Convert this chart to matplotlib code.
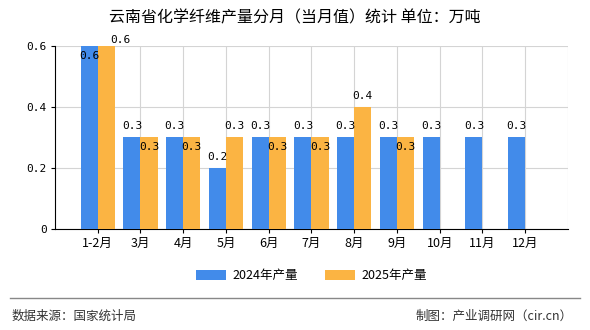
import numpy as np
import matplotlib
matplotlib.use('Agg')
import matplotlib.pyplot as plt

plt.rcParams['font.family'] = ['Noto Sans CJK SC', 'DejaVu Sans']

months = ['1-2月', '3月', '4月', '5月', '6月', '7月', '8月', '9月', '10月', '11月', '12月']
v2024 = [0.6, 0.3, 0.3, 0.2, 0.3, 0.3, 0.3, 0.3, 0.3, 0.3, 0.3]
v2025 = [0.6, 0.3, 0.3, 0.3, 0.3, 0.3, 0.4, 0.3]
yticks = [0, 0.2, 0.4, 0.6]

blue = '#428bea'
orange = '#fbb443'

fig = plt.figure(figsize=(5.9, 3.3), dpi=100)
ax = fig.add_axes([0.0932, 0.3061, 0.8695, 0.5545])

x = np.arange(len(months))
w = 0.4
ax.bar(x[:len(v2024)] - w / 2, v2024, w, color=blue, label='2024年产量', zorder=3)
ax.bar(x[:len(v2025)] + w / 2, v2025, w, color=orange, label='2025年产量', zorder=3)

ax.set_xlim(-1, len(months))
ax.set_ylim(0, 0.6)
ax.set_xticks(x)
ax.set_xticklabels(months, fontsize=9)
ax.set_yticks(yticks)
ax.set_yticklabels(['0', '0.2', '0.4', '0.6'], fontsize=8, family='DejaVu Sans Mono')
ax.tick_params(axis='both', length=3, width=0.8, color='black', pad=3)
ax.grid(True, color='#d4d4d4', linewidth=0.8, zorder=0)
for s in ['top', 'right']:
    ax.spines[s].set_visible(False)
ax.spines['left'].set_color('black')
ax.spines['bottom'].set_color('black')
ax.axvline(len(months), color='#d4d4d4', linewidth=0.8, zorder=0)

lab_kw = dict(fontsize=8, family='DejaVu Sans Mono', ha='center', zorder=4)
for i, v in enumerate(v2024):
    if v >= 0.6:
        ax.text(x[i] - w / 2, v - 0.015, f'{v:.1f}', va='top', **lab_kw)
    else:
        ax.text(x[i] - w / 2, v + 0.02, f'{v:.1f}', va='bottom', **lab_kw)
for i, v in enumerate(v2025):
    if v >= 0.6:
        ax.text(x[i] + w + 0.12, v + 0.002, f'{v:.1f}', va='bottom', **lab_kw)
    elif i < len(v2024) and abs(v - v2024[i]) < 1e-9:
        ax.text(x[i] + w / 2, v - 0.015, f'{v:.1f}', va='top', **lab_kw)
    else:
        ax.text(x[i] + w / 2, v + 0.02, f'{v:.1f}', va='bottom', **lab_kw)

fig.text(0.5, 0.945, '云南省化学纤维产量分月（当月值）统计 单位：万吨', ha='center', va='center', fontsize=11.5)

ax.legend(loc='center', bbox_to_anchor=(0.5, -0.256), ncol=2, frameon=False,
          fontsize=9, handlelength=2.4, handleheight=0.9, handletextpad=0.5, columnspacing=2.2)

fig.add_artist(plt.Line2D([0.017, 0.983], [0.097, 0.097], color='#888888', linewidth=1))
fig.text(0.02, 0.042, '数据来源：国家统计局', ha='left', va='center', fontsize=9, color='#333333')
fig.text(0.97, 0.042, '制图：产业调研网（cir.cn）', ha='right', va='center', fontsize=9, color='#333333')

fig.savefig('out.png', dpi=100)
